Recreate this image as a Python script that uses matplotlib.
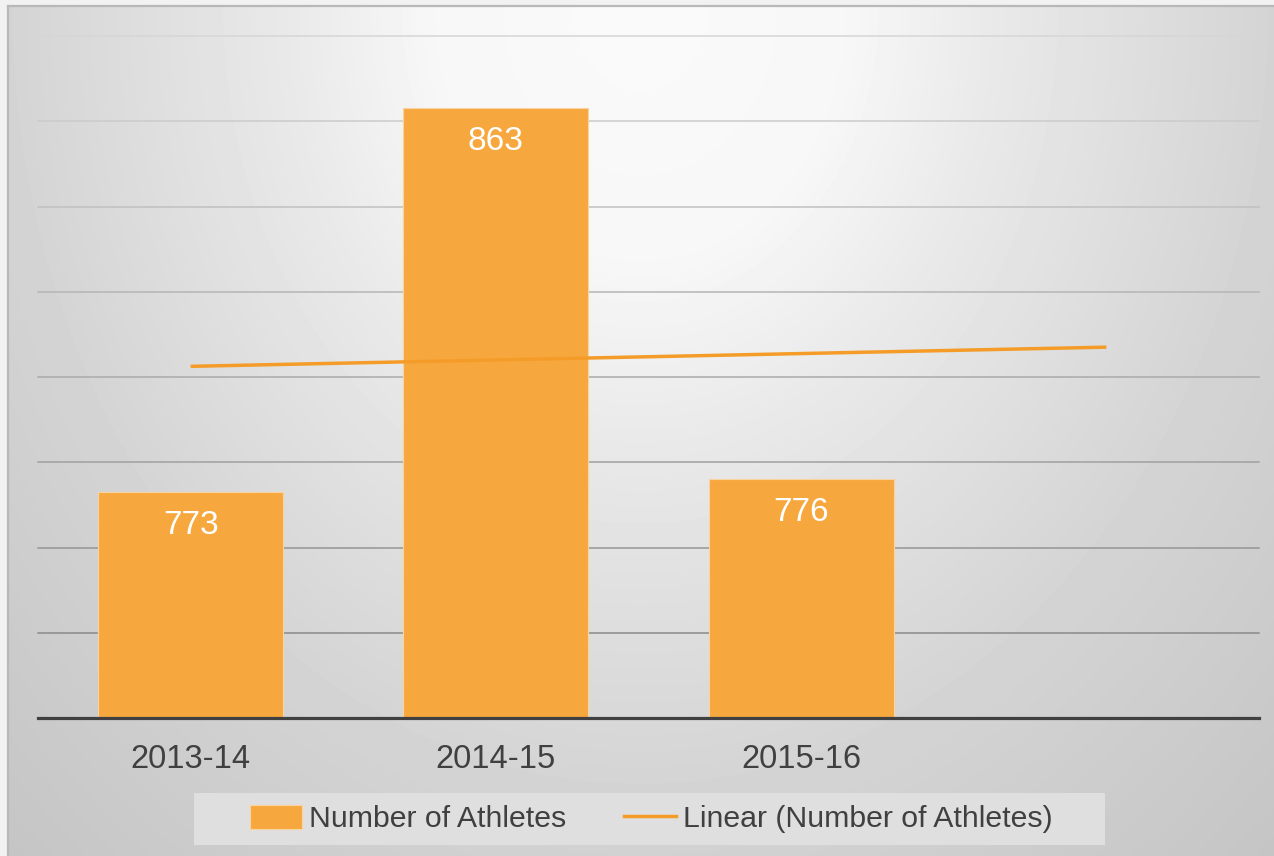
import matplotlib
matplotlib.use('Agg')
import numpy as np
import matplotlib.pyplot as plt
from matplotlib.patches import Rectangle
from matplotlib.lines import Line2D

# Data
seasons = ['2013-14', '2014-15', '2015-16']
athletes = [773, 863, 776]
y_min, y_max, y_step = 720, 880, 20

plt.rcParams['font.family'] = ['Liberation Sans', 'DejaVu Sans']

W, H = 1274, 856
fig = plt.figure(figsize=(W / 100, H / 100), dpi=100, facecolor='#f2f2f2')

# Background: soft radial gray gradient inside the frame
bg_ax = fig.add_axes([8 / W, 0, (W - 8) / W, (H - 6) / H], zorder=0)
yy, xx = np.mgrid[0:H - 6, 8:W]
r = np.sqrt(((xx - 640) / 630.0) ** 2 + (yy / 780.0) ** 2)
shade = 250 - np.interp(r, [0, 0.33, 0.56, 1.0, 1.5, 2.0], [0, 3, 17, 38, 54, 60])
bg_ax.imshow(shade, cmap='gray', vmin=0, vmax=255, aspect='auto',
             interpolation='bilinear')
bg_ax.axis('off')

# Frame border (top and left)
fig.add_artist(Line2D([8 / W, 1], [1 - 6 / H, 1 - 6 / H], color='#b8b8b8', lw=1.6))
fig.add_artist(Line2D([8 / W, 8 / W], [0, 1 - 6 / H], color='#b8b8b8', lw=1.6))

# Main chart
ax = fig.add_axes([38 / W, (H - 718) / H, 1221 / W, 682 / H], zorder=2)
ax.set_facecolor('none')
x = np.arange(len(seasons))

# gridlines, darker toward the bottom
levels = np.arange(y_min + y_step, y_max + 1, y_step)
for lv in levels:
    t = (lv - levels[0]) / (levels[-1] - levels[0])
    g = 0.54 + t * (0.84 - 0.54)
    ax.axhline(lv, color=(g, g, g), lw=1.1, zorder=1, clip_on=False)

bars = ax.bar(x, athletes, width=0.606, bottom=0, color='#F6A83F',
              edgecolor='#F9D3A0', linewidth=0.8, zorder=2)
for xi, v in zip(x, athletes):
    ax.annotate(str(v), (xi, v), xytext=(0, -33), textcoords='offset pixels',
                ha='center', va='center', color='white', fontsize=24, zorder=4)

# Linear trendline, forecast one period ahead
slope, intercept = np.polyfit(x, athletes, 1)
xt = np.array([0, len(seasons)])
ax.plot(xt, slope * xt + intercept, color='#F59C28', lw=2.5,
        solid_capstyle='butt', zorder=3)

ax.set_xlim(-0.5, 3.5)
ax.set_ylim(y_min, y_max)
ax.set_xticks(x)
ax.set_xticklabels(seasons, fontsize=23.5, color='#404040')
ax.tick_params(axis='x', length=0, pad=19)
ax.set_yticks([])
for s in ['top', 'right', 'left']:
    ax.spines[s].set_visible(False)
ax.spines['bottom'].set_color('#404040')
ax.spines['bottom'].set_linewidth(2.3)
ax.spines['bottom'].set_zorder(5)

# Legend box
fig.add_artist(Rectangle((194 / W, 1 - 845 / H), (1105 - 194) / W, (845 - 793) / H,
                         transform=fig.transFigure, facecolor='#dfdfdf',
                         edgecolor='none', zorder=1))
handles = [Rectangle((0, 0), 1, 1, facecolor='#F6A83F', edgecolor='#F9D3A0', lw=0.8),
           Line2D([0], [0], color='#F59C28', lw=2.5)]
labels = ['Number of Athletes', 'Linear (Number of Athletes)']
leg = fig.legend(handles, labels, loc='center', ncol=2, frameon=False,
                 bbox_to_anchor=(651 / W, 1 - 819 / H), fontsize=21.8,
                 handlelength=1.72, handleheight=0.87, handletextpad=0.23,
                 columnspacing=1.9, borderpad=0)
leg.set_zorder(3)
for txt in leg.get_texts():
    txt.set_color('#404040')

fig.savefig('out.png', dpi=100)
